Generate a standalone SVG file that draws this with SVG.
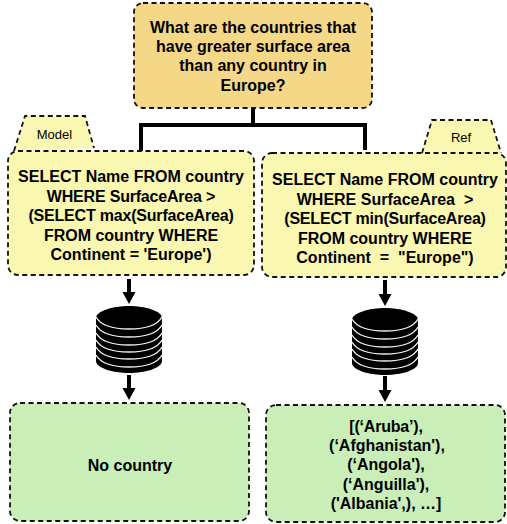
<svg xmlns="http://www.w3.org/2000/svg" width="507" height="524" viewBox="0 0 507 524">
<style>
.box{stroke:#111;stroke-width:1.8;stroke-dasharray:5 3.5}
.q{fill:#F5D788}.y{fill:#FAF8B0}.g{fill:#C9EEB8}
text{font-family:"Liberation Sans",Arial,sans-serif;fill:#000;text-anchor:middle}
.t{font-size:16px;font-weight:700}
.n{letter-spacing:-.2px}
.s{font-size:13px}
.line{fill:none;stroke:#000;stroke-width:4}
.shaft{fill:none;stroke:#000;stroke-width:4}
.arc{fill:none;stroke:#eee;stroke-width:1.4}
</style>
<defs>
<marker id="ah" markerUnits="userSpaceOnUse" markerWidth="13" markerHeight="14" refX="0" refY="7" orient="auto"><path d="M0 0.5L12 7L0 13.5Z" fill="#000"/></marker>
<g id="db">
<path d="M-33 12V55C-33 62 -16 67 0 67C16 67 33 62 33 55V12C33 5 16 0 0 0C-16 0 -33 5 -33 12Z" fill="#000"/>
<path class="arc" d="M-33 11C-28 20 -14 23 0 23C14 23 28 20 33 11"/>
<path class="arc" d="M-33 19C-28 28 -14 31 0 31C14 31 28 28 33 19"/>
<path class="arc" d="M-33 27C-28 36 -14 39 0 39C14 39 28 36 33 27"/>
<path class="arc" d="M-33 34C-28 43 -14 46 0 46C14 46 28 43 33 34"/>
<path class="arc" d="M-33 41C-28 50 -14 53 0 53C14 53 28 50 33 41"/>
<path class="arc" d="M-33 49C-28 58 -14 61 0 61C14 61 28 58 33 49"/>
</g>
</defs>
<g id="connectors">
<path class="line" d="M253 108V125M141 151V125H365V150"/>
<path class="shaft" d="M129 279V292" marker-end="url(#ah)"/>
<path class="shaft" d="M129 375V388" marker-end="url(#ah)"/>
<path class="shaft" d="M385 280V294" marker-end="url(#ah)"/>
<path class="shaft" d="M385 376V390" marker-end="url(#ah)"/>
</g>
<g id="question">
<rect class="box q" x="134" y="3" width="238" height="105" rx="9"/>
<text class="t" x="253" y="33">What are the countries that</text>
<text class="t" x="253" y="52">have greater surface area</text>
<text class="t" x="253" y="71">than any country in</text>
<text class="t" x="253" y="91">Europe?</text>
</g>
<g id="model-tab">
<path class="box y" d="M14 151L25 116H85L94 148"/>
<text class="s" x="54.500" y="139">Model</text>
</g>
<g id="ref-tab">
<path class="box y" d="M422 153L432 120H491L501 153"/>
<text class="s" x="461" y="142">Ref</text>
</g>
<g id="model-sql">
<rect class="box y" x="8" y="151" width="246" height="124" rx="10"/>
<text class="t" x="131" y="182">SELECT Name FROM country</text>
<text class="t n" x="131" y="202">WHERE SurfaceArea &gt;</text>
<text class="t n" x="131" y="221">(SELECT max(SurfaceArea)</text>
<text class="t" x="131" y="241">FROM country WHERE</text>
<text class="t" x="131" y="260">Continent = 'Europe')</text>
</g>
<g id="ref-sql">
<rect class="box y" x="262" y="153" width="244" height="124" rx="10"/>
<text class="t" x="385" y="185">SELECT Name FROM country</text>
<text class="t" x="385" y="205" xml:space="preserve">WHERE SurfaceArea  &gt;</text>
<text class="t n" x="385" y="224">(SELECT min(SurfaceArea)</text>
<text class="t" x="385" y="244">FROM country WHERE</text>
<text class="t" x="385" y="263" xml:space="preserve">Continent  =  "Europe")</text>
</g>
<g id="db-left"><use href="#db" x="129" y="306"/></g>
<g id="db-right"><use href="#db" x="385" y="308"/></g>
<g id="result-left">
<rect class="box g" x="10" y="403" width="239" height="118" rx="10"/>
<text class="t" x="130" y="471">No country</text>
</g>
<g id="result-right">
<rect class="box g" x="266" y="405" width="239" height="117" rx="10"/>
<text class="t n" x="386" y="432">[(‘Aruba’),</text>
<text class="t" x="387" y="451">(‘Afghanistan'),</text>
<text class="t" x="386" y="470">(‘Angola'),</text>
<text class="t" x="386" y="490">(‘Anguilla'),</text>
<text class="t" x="386" y="509">('Albania',), …]</text>
</g>
</svg>
